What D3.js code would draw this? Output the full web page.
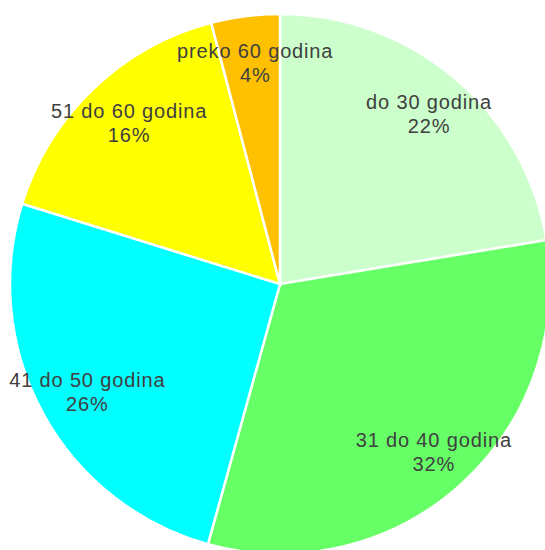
<!DOCTYPE html>
<html>
<head>
<meta charset="utf-8">
<script src="https://cdn.jsdelivr.net/npm/d3@7.9.0/dist/d3.min.js"></script>
<style>
  body { margin: 0; background: #fff; }
  text { font-family: "Liberation Sans", Arial, sans-serif; fill: #404040; }
</style>
</head>
<body>
<svg id="pie" width="545" height="550"></svg>
<script>
const labels = ['do 30 godina', '31 do 40 godina', '41 do 50 godina', '51 do 60 godina', 'preko 60 godina'];
const values = [22.4, 31.9, 25.5, 16.1, 4.1];
const colors = ['#ccffcc', '#66ff66', '#00ffff', '#ffff00', '#ffc000'];

const data = labels.map((label, i) => ({ label, value: values[i] }));

const cx = 280, cy = 284, r = 270;
const svg = d3.select('#pie');
const g = svg.append('g').attr('transform', `translate(${cx},${cy})`);

const pie = d3.pie().sort(null).value((d) => d.value);
const arc = d3.arc().innerRadius(0).outerRadius(r);
const labelArc = d3.arc().innerRadius(r * 0.83).outerRadius(r * 0.83);

const arcData = pie(data);

g.selectAll('path')
  .data(arcData)
  .join('path')
  .attr('d', arc)
  .attr('fill', (d, i) => colors[i])
  .attr('stroke', '#fff')
  .attr('stroke-width', 2.5);

const lbl = g.selectAll('text')
  .data(arcData)
  .join('text')
  .attr('transform', (d) => {
    const [x, y] = labelArc.centroid(d);
    return `translate(${x + 4},${y - 4})`;
  })
  .attr('text-anchor', 'middle')
  .style('font-size', '20px')
  .style('letter-spacing', '0.85px');

lbl.append('tspan').attr('x', 0).attr('dy', 0).text((d) => d.data.label);
lbl.append('tspan').attr('x', 0).attr('dy', '24px').text((d) => Math.round(d.data.value) + '%');
</script>
</body>
</html>
